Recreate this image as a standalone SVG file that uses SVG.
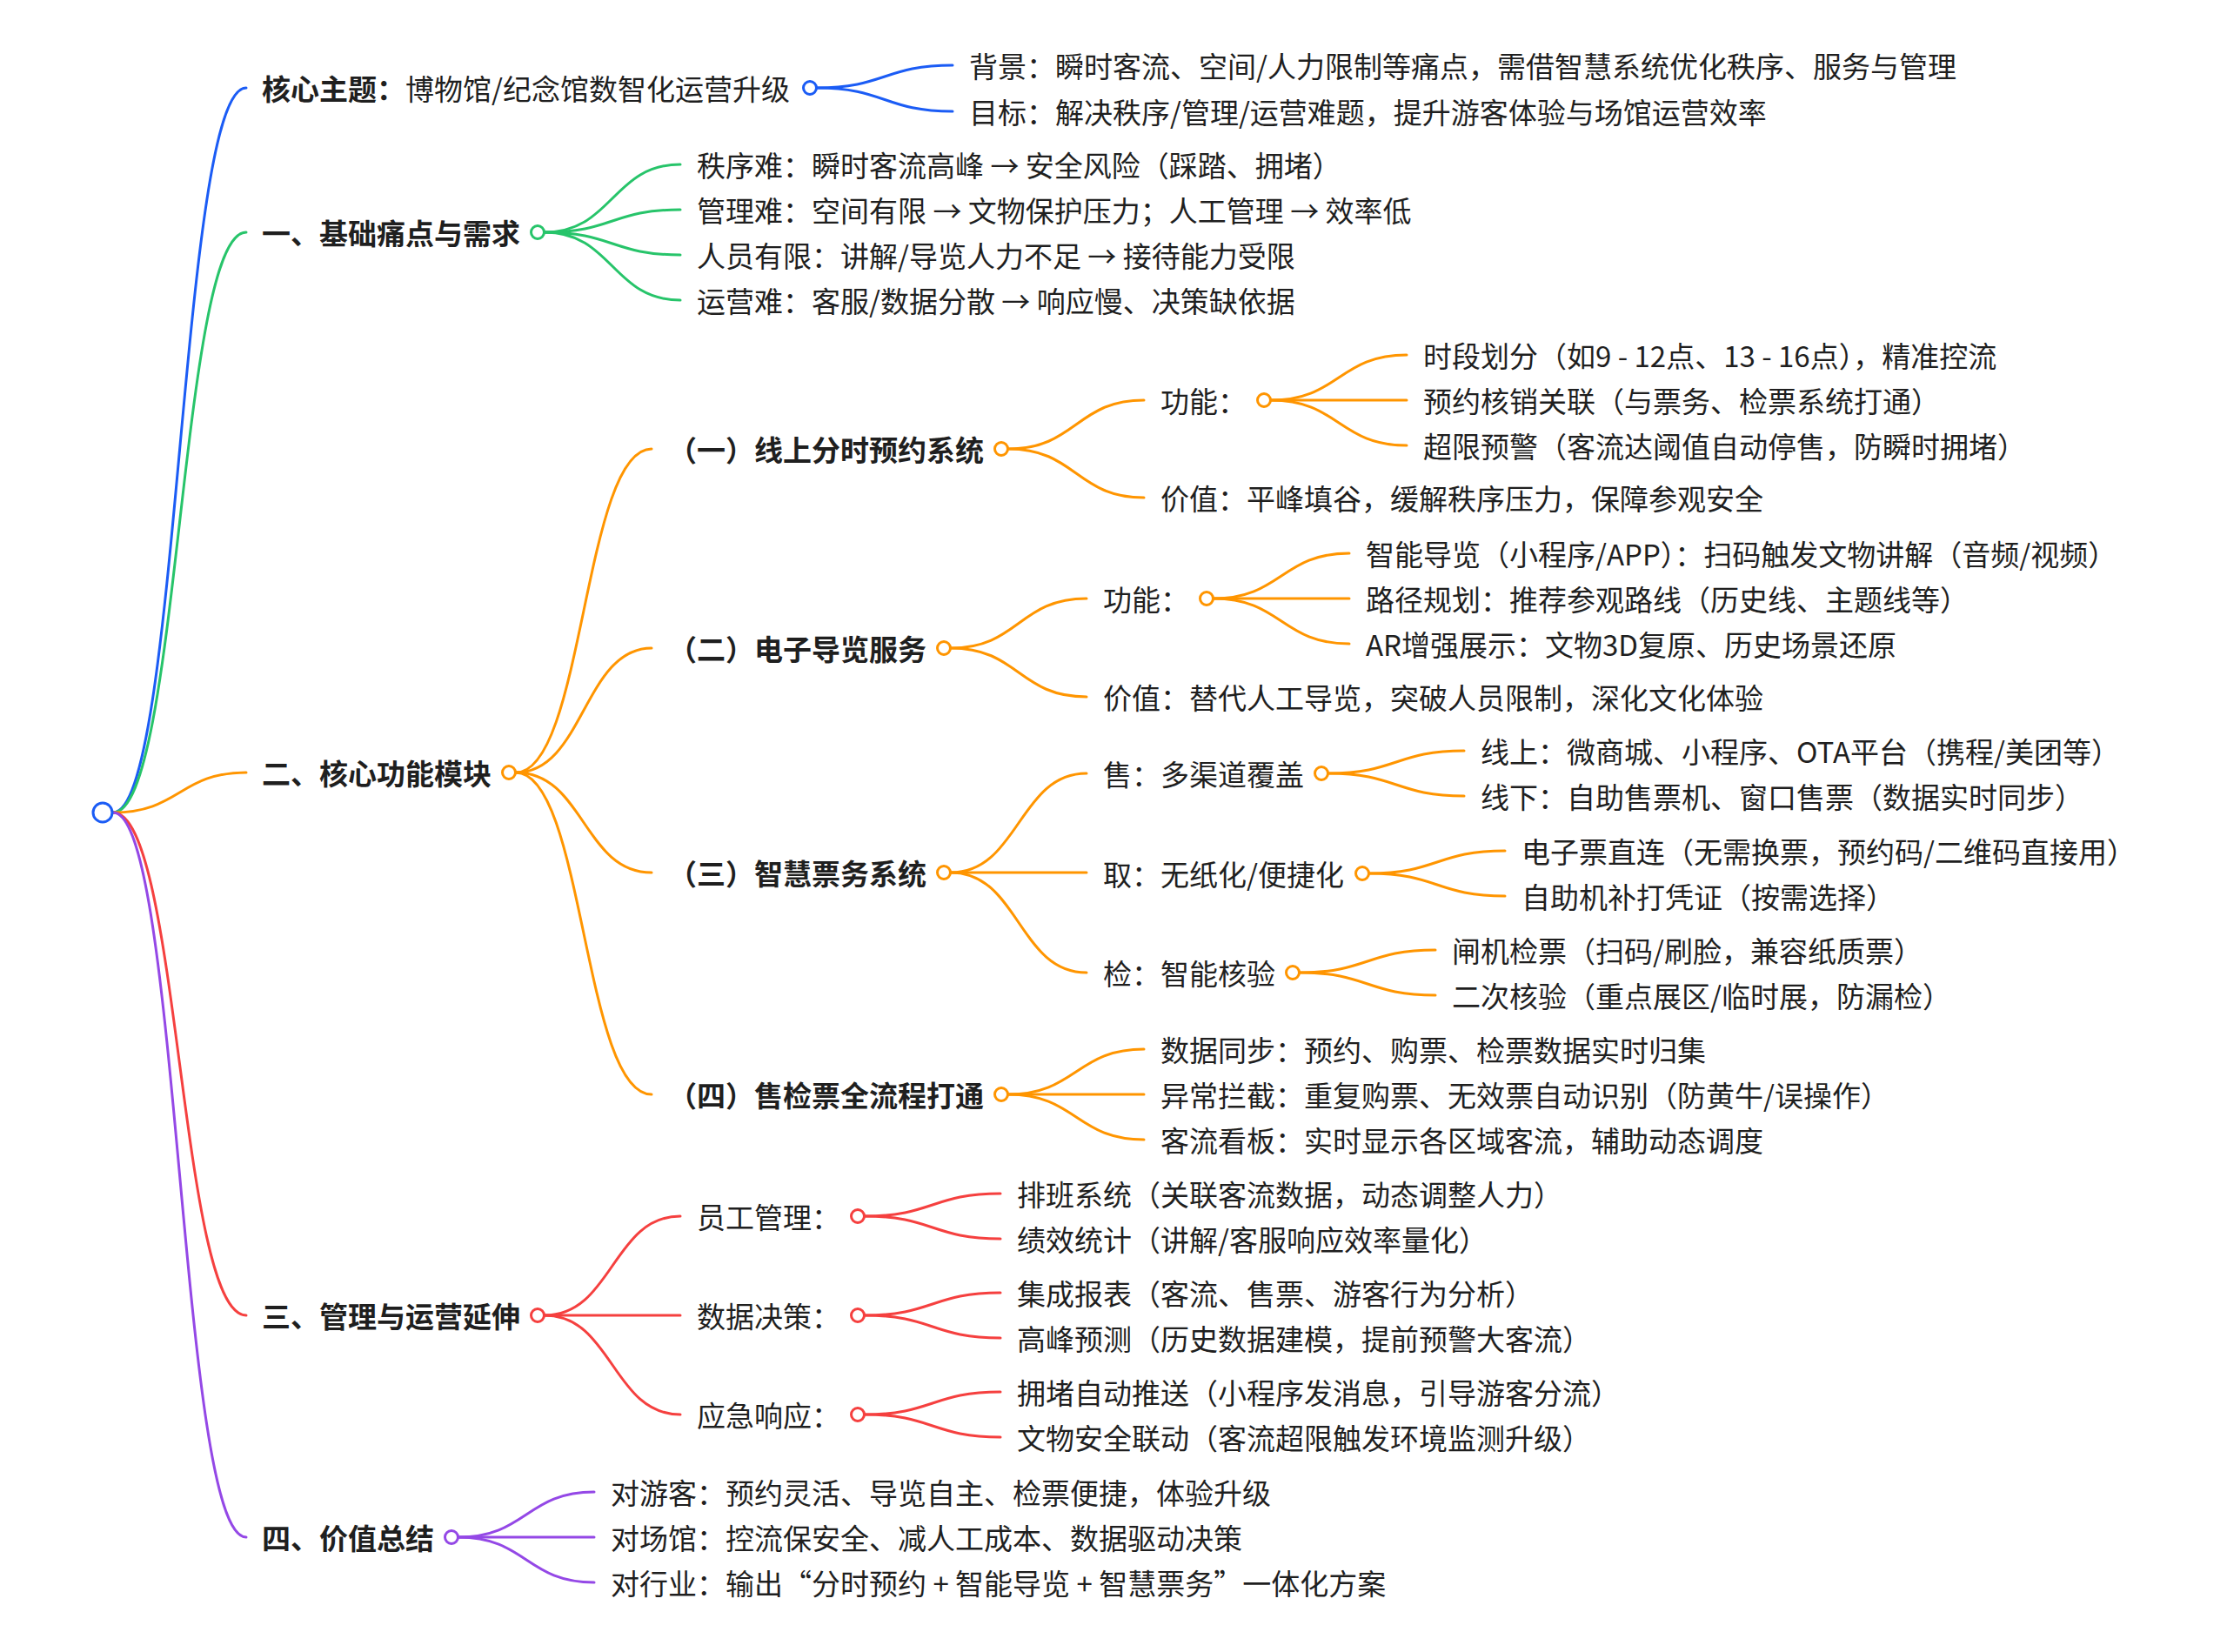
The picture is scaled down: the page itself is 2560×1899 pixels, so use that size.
<svg xmlns="http://www.w3.org/2000/svg" width="2560" height="1899" viewBox="0 0 2560 1899">
<style>
.t{font-family:'Noto Sans CJK SC','Noto Sans CJK JP','Noto Sans',sans-serif;font-size:33px;fill:#1f1f1f}
.b{font-weight:700}
.l{fill:none;stroke-width:3;stroke-linecap:round}
.c{fill:#fff;stroke-width:3}
.blue{stroke:#1b5cf5}.green{stroke:#27c46a}.orange{stroke:#ff9500}.red{stroke:#f5403f}.purple{stroke:#9448e6}
</style>
<rect width="2560" height="1899" fill="#fff"/>
<g id="connectors">
<path class="l blue" d="M130,934 C206.5,934 206.5,101 283,101"/>
<path class="l green" d="M130,934 C206.5,934 206.5,267 283,267"/>
<path class="l orange" d="M130,934 C206.5,934 206.5,888 283,888"/>
<path class="l red" d="M130,934 C206.5,934 206.5,1512 283,1512"/>
<path class="l purple" d="M130,934 C206.5,934 206.5,1767 283,1767"/>
<path class="l blue" d="M939,101 C1017,101 1017,75 1095,75"/>
<path class="l blue" d="M939,101 C1017,101 1017,128 1095,128"/>
<path class="l green" d="M626,267 C704,267 704,189 782,189"/>
<path class="l green" d="M626,267 C704,267 704,241 782,241"/>
<path class="l green" d="M626,267 C704,267 704,293 782,293"/>
<path class="l green" d="M626,267 C704,267 704,345 782,345"/>
<path class="l orange" d="M593,888 C671,888 671,516 749,516"/>
<path class="l orange" d="M593,888 C671,888 671,745 749,745"/>
<path class="l orange" d="M593,888 C671,888 671,1003 749,1003"/>
<path class="l orange" d="M593,888 C671,888 671,1258 749,1258"/>
<path class="l orange" d="M1159,516 C1237,516 1237,460 1315,460"/>
<path class="l orange" d="M1159,516 C1237,516 1237,572 1315,572"/>
<path class="l orange" d="M1461,460 C1539,460 1539,408 1617,408"/>
<path class="l orange" d="M1461,460 L1617,460"/>
<path class="l orange" d="M1461,460 C1539,460 1539,512 1617,512"/>
<path class="l orange" d="M1093,745 C1171,745 1171,688 1249,688"/>
<path class="l orange" d="M1093,745 C1171,745 1171,801 1249,801"/>
<path class="l orange" d="M1395,688 C1473,688 1473,636 1551,636"/>
<path class="l orange" d="M1395,688 L1551,688"/>
<path class="l orange" d="M1395,688 C1473,688 1473,740 1551,740"/>
<path class="l orange" d="M1093,1003 C1171,1003 1171,889 1249,889"/>
<path class="l orange" d="M1093,1003 L1249,1003"/>
<path class="l orange" d="M1093,1003 C1171,1003 1171,1118 1249,1118"/>
<path class="l orange" d="M1527,889 C1605,889 1605,863 1683,863"/>
<path class="l orange" d="M1527,889 C1605,889 1605,915 1683,915"/>
<path class="l orange" d="M1574,1004 C1652,1004 1652,978 1730,978"/>
<path class="l orange" d="M1574,1004 C1652,1004 1652,1030 1730,1030"/>
<path class="l orange" d="M1494,1118 C1572,1118 1572,1092 1650,1092"/>
<path class="l orange" d="M1494,1118 C1572,1118 1572,1144 1650,1144"/>
<path class="l orange" d="M1159,1258 C1237,1258 1237,1206 1315,1206"/>
<path class="l orange" d="M1159,1258 L1315,1258"/>
<path class="l orange" d="M1159,1258 C1237,1258 1237,1310 1315,1310"/>
<path class="l red" d="M626,1512 C704,1512 704,1398 782,1398"/>
<path class="l red" d="M626,1512 L782,1512"/>
<path class="l red" d="M626,1512 C704,1512 704,1626 782,1626"/>
<path class="l red" d="M994,1398 C1072,1398 1072,1372 1150,1372"/>
<path class="l red" d="M994,1398 C1072,1398 1072,1424 1150,1424"/>
<path class="l red" d="M994,1512 C1072,1512 1072,1486 1150,1486"/>
<path class="l red" d="M994,1512 C1072,1512 1072,1538 1150,1538"/>
<path class="l red" d="M994,1626 C1072,1626 1072,1600 1150,1600"/>
<path class="l red" d="M994,1626 C1072,1626 1072,1652 1150,1652"/>
<path class="l purple" d="M527,1767 C605,1767 605,1715 683,1715"/>
<path class="l purple" d="M527,1767 L683,1767"/>
<path class="l purple" d="M527,1767 C605,1767 605,1819 683,1819"/>
</g>
<g id="root"><circle class="c blue" cx="118" cy="934" r="11"/></g>
<g id="n1"><text class="t" x="301" y="115"><tspan class="b">核心主题：</tspan>博物馆/纪念馆数智化运营升级</text><circle class="c blue" cx="931" cy="101" r="7.5"/></g>
<g id="n1-1"><text class="t" x="1114" y="89">背景：瞬时客流、空间/人力限制等痛点，需借智慧系统优化秩序、服务与管理</text></g>
<g id="n1-2"><text class="t" x="1114" y="142">目标：解决秩序/管理/运营难题，提升游客体验与场馆运营效率</text></g>
<g id="n2"><text class="t b" x="301" y="281">一、基础痛点与需求</text><circle class="c green" cx="618" cy="267" r="7.5"/></g>
<g id="n2-1"><text class="t" x="801" y="203">秩序难：瞬时客流高峰 → 安全风险（踩踏、拥堵）</text></g>
<g id="n2-2"><text class="t" x="801" y="255">管理难：空间有限 → 文物保护压力；人工管理 → 效率低</text></g>
<g id="n2-3"><text class="t" x="801" y="307">人员有限：讲解/导览人力不足 → 接待能力受限</text></g>
<g id="n2-4"><text class="t" x="801" y="359">运营难：客服/数据分散 → 响应慢、决策缺依据</text></g>
<g id="n3"><text class="t b" x="301" y="902">二、核心功能模块</text><circle class="c orange" cx="585" cy="888" r="7.5"/></g>
<g id="n3-a"><text class="t b" x="768" y="530">（一）线上分时预约系统</text><circle class="c orange" cx="1151" cy="516" r="7.5"/></g>
<g id="n3-a-f"><text class="t" x="1334" y="474">功能：</text><circle class="c orange" cx="1453" cy="460" r="7.5"/></g>
<g id="n3-a-f1"><text class="t" x="1636" y="422">时段划分（如9 - 12点、13 - 16点），精准控流</text></g>
<g id="n3-a-f2"><text class="t" x="1636" y="474">预约核销关联（与票务、检票系统打通）</text></g>
<g id="n3-a-f3"><text class="t" x="1636" y="526">超限预警（客流达阈值自动停售，防瞬时拥堵）</text></g>
<g id="n3-a-v"><text class="t" x="1334" y="586">价值：平峰填谷，缓解秩序压力，保障参观安全</text></g>
<g id="n3-b"><text class="t b" x="768" y="759">（二）电子导览服务</text><circle class="c orange" cx="1085" cy="745" r="7.5"/></g>
<g id="n3-b-f"><text class="t" x="1268" y="702">功能：</text><circle class="c orange" cx="1387" cy="688" r="7.5"/></g>
<g id="n3-b-f1"><text class="t" x="1570" y="650">智能导览（小程序/APP）：扫码触发文物讲解（音频/视频）</text></g>
<g id="n3-b-f2"><text class="t" x="1570" y="702">路径规划：推荐参观路线（历史线、主题线等）</text></g>
<g id="n3-b-f3"><text class="t" x="1570" y="754">AR增强展示：文物3D复原、历史场景还原</text></g>
<g id="n3-b-v"><text class="t" x="1268" y="815">价值：替代人工导览，突破人员限制，深化文化体验</text></g>
<g id="n3-c"><text class="t b" x="768" y="1017">（三）智慧票务系统</text><circle class="c orange" cx="1085" cy="1003" r="7.5"/></g>
<g id="n3-c-s"><text class="t" x="1268" y="903">售：多渠道覆盖</text><circle class="c orange" cx="1519" cy="889" r="7.5"/></g>
<g id="n3-c-s1"><text class="t" x="1702" y="877">线上：微商城、小程序、OTA平台（携程/美团等）</text></g>
<g id="n3-c-s2"><text class="t" x="1702" y="929">线下：自助售票机、窗口售票（数据实时同步）</text></g>
<g id="n3-c-q"><text class="t" x="1268" y="1018">取：无纸化/便捷化</text><circle class="c orange" cx="1566" cy="1004" r="7.5"/></g>
<g id="n3-c-q1"><text class="t" x="1749" y="992">电子票直连（无需换票，预约码/二维码直接用）</text></g>
<g id="n3-c-q2"><text class="t" x="1749" y="1044">自助机补打凭证（按需选择）</text></g>
<g id="n3-c-j"><text class="t" x="1268" y="1132">检：智能核验</text><circle class="c orange" cx="1486" cy="1118" r="7.5"/></g>
<g id="n3-c-j1"><text class="t" x="1669" y="1106">闸机检票（扫码/刷脸，兼容纸质票）</text></g>
<g id="n3-c-j2"><text class="t" x="1669" y="1158">二次核验（重点展区/临时展，防漏检）</text></g>
<g id="n3-d"><text class="t b" x="768" y="1272">（四）售检票全流程打通</text><circle class="c orange" cx="1151" cy="1258" r="7.5"/></g>
<g id="n3-d1"><text class="t" x="1334" y="1220">数据同步：预约、购票、检票数据实时归集</text></g>
<g id="n3-d2"><text class="t" x="1334" y="1272">异常拦截：重复购票、无效票自动识别（防黄牛/误操作）</text></g>
<g id="n3-d3"><text class="t" x="1334" y="1324">客流看板：实时显示各区域客流，辅助动态调度</text></g>
<g id="n4"><text class="t b" x="301" y="1526">三、管理与运营延伸</text><circle class="c red" cx="618" cy="1512" r="7.5"/></g>
<g id="n4-a"><text class="t" x="801" y="1412">员工管理：</text><circle class="c red" cx="986" cy="1398" r="7.5"/></g>
<g id="n4-a1"><text class="t" x="1169" y="1386">排班系统（关联客流数据，动态调整人力）</text></g>
<g id="n4-a2"><text class="t" x="1169" y="1438">绩效统计（讲解/客服响应效率量化）</text></g>
<g id="n4-b"><text class="t" x="801" y="1526">数据决策：</text><circle class="c red" cx="986" cy="1512" r="7.5"/></g>
<g id="n4-b1"><text class="t" x="1169" y="1500">集成报表（客流、售票、游客行为分析）</text></g>
<g id="n4-b2"><text class="t" x="1169" y="1552">高峰预测（历史数据建模，提前预警大客流）</text></g>
<g id="n4-c"><text class="t" x="801" y="1640">应急响应：</text><circle class="c red" cx="986" cy="1626" r="7.5"/></g>
<g id="n4-c1"><text class="t" x="1169" y="1614">拥堵自动推送（小程序发消息，引导游客分流）</text></g>
<g id="n4-c2"><text class="t" x="1169" y="1666">文物安全联动（客流超限触发环境监测升级）</text></g>
<g id="n5"><text class="t b" x="301" y="1781">四、价值总结</text><circle class="c purple" cx="519" cy="1767" r="7.5"/></g>
<g id="n5-1"><text class="t" x="702" y="1729">对游客：预约灵活、导览自主、检票便捷，体验升级</text></g>
<g id="n5-2"><text class="t" x="702" y="1781">对场馆：控流保安全、减人工成本、数据驱动决策</text></g>
<g id="n5-3"><text class="t" x="702" y="1833">对行业：输出“分时预约 + 智能导览 + 智慧票务”一体化方案</text></g>
</svg>
